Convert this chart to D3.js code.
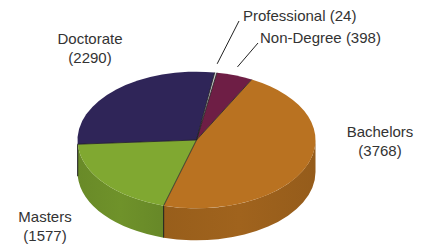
<!DOCTYPE html>
<html>
<head>
<meta charset="utf-8">
<script src="https://cdn.jsdelivr.net/npm/d3@7"></script>
<style>
  body { margin: 0; background: #fff; }
  svg text { font-family: "Liberation Sans", Arial, sans-serif; font-size: 15px; fill: #333; }
</style>
</head>
<body>
<svg id="chart" width="432" height="247"></svg>
<script>
const categories = ["Professional", "Non-Degree", "Bachelors", "Masters", "Doctorate"];
const counts = [24, 398, 3768, 1577, 2290];
const sliceColors = ["#cfcfcf", "#6e1e45", "#b97221", "#80a831", "#2f2558"];

const width = 432, height = 247;
const cx = 196.5, cy = 140, rx = 119, ry = 68.3, depth = 32;
const startDeg = 8.8;

const svg = d3.select("#chart");

const color = d3.scaleOrdinal().domain(categories).range(sliceColors);

const pie = d3.pie()
    .sort(null)
    .value(d => d.count)
    .startAngle(startDeg * Math.PI / 180)
    .endAngle((startDeg + 360) * Math.PI / 180);

const data = categories.map((c, i) => ({ name: c, count: counts[i] }));
const arcs = pie(data);

const pt = (a, dy = 0) => [cx + rx * Math.sin(a), cy - ry * Math.cos(a) + dy];

// side walls (front half only)
const sideG = svg.append("g");
arcs.forEach(d => {
    let a1 = Math.max(d.startAngle, Math.PI / 2);
    let a2 = Math.min(d.endAngle, Math.PI * 1.5);
    if (a2 <= a1) return;
    const p1 = pt(a1), p2 = pt(a2), q2 = pt(a2, depth), q1 = pt(a1, depth);
    const path = `M${p1}A${rx},${ry} 0 0 1 ${p2}L${q2}A${rx},${ry} 0 0 0 ${q1}Z`;
    const base = d3.color(color(d.data.name));
    const gid = "grad-" + d.index;
    const grad = svg.append("defs").append("linearGradient")
        .attr("id", gid).attr("x1", "0").attr("x2", "1").attr("y1", "0").attr("y2", "0");
    grad.append("stop").attr("offset", "0%").attr("stop-color", base.darker(0.55));
    grad.append("stop").attr("offset", "50%").attr("stop-color", base.darker(0.4));
    grad.append("stop").attr("offset", "100%").attr("stop-color", base.darker(0.6));
    sideG.append("path")
        .attr("d", path)
        .attr("fill", `url(#${gid})`);
    // vertical edge at slice boundary
    if (d.startAngle > Math.PI / 2 && d.startAngle < Math.PI * 1.5) {
        sideG.append("line")
            .attr("x1", p1[0]).attr("y1", p1[1])
            .attr("x2", q1[0]).attr("y2", q1[1])
            .attr("stroke", "#1a1a1a").attr("stroke-width", 1);
    }
});

// top faces
const topG = svg.append("g");
arcs.forEach(d => {
    const p1 = pt(d.startAngle), p2 = pt(d.endAngle);
    const large = (d.endAngle - d.startAngle) > Math.PI ? 1 : 0;
    topG.append("path")
        .attr("d", `M${cx},${cy}L${p1}A${rx},${ry} 0 ${large} 1 ${p2}Z`)
        .attr("fill", color(d.data.name));
});
arcs.forEach(d => {
    const p1 = pt(d.startAngle);
    topG.append("line")
        .attr("x1", cx).attr("y1", cy)
        .attr("x2", p1[0]).attr("y2", p1[1])
        .attr("stroke", "#1f1f1f").attr("stroke-width", 0.8);
});

// labels
const labelLayout = {
    "Professional": { x: 243, y: 21, anchor: "start", line: [239, 21] },
    "Non-Degree": { x: 260, y: 43, anchor: "start", line: [258, 43] },
    "Bachelors": { x: 380, y: 137, anchor: "middle" },
    "Masters": { x: 45, y: 222, anchor: "middle" },
    "Doctorate": { x: 90, y: 44, anchor: "middle" }
};

arcs.forEach(d => {
    const L = labelLayout[d.data.name];
    const t = svg.append("text")
        .attr("x", L.x).attr("y", L.y)
        .attr("text-anchor", L.anchor);
    if (L.line) {
        t.text(`${d.data.name} (${d.data.count})`);
        const mid = (d.startAngle + d.endAngle) / 2;
        const s = [cx + rx * 1.07 * Math.sin(mid), cy - ry * 1.13 * Math.cos(mid)];
        svg.append("line")
            .attr("x1", s[0]).attr("y1", s[1])
            .attr("x2", L.line[0]).attr("y2", L.line[1])
            .attr("stroke", "#222").attr("stroke-width", 1);
    } else {
        t.append("tspan").attr("x", L.x).text(d.data.name);
        t.append("tspan").attr("x", L.x).attr("dy", 19).text(`(${d.data.count})`);
    }
});
</script>
</body>
</html>
